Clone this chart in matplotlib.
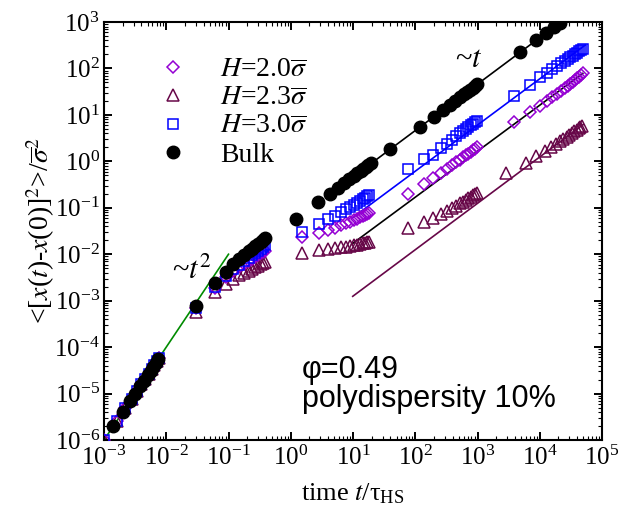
import matplotlib
matplotlib.use('Agg')
import matplotlib.pyplot as plt
from matplotlib.ticker import LogLocator, NullFormatter, LogFormatterSciNotation

# Bulk system (filled circles)
t_bulk = [0.0014, 0.002, 0.0026, 0.0032, 0.0038, 0.0044, 0.005, 0.0056, 0.0062, 0.0068, 0.0074,
          0.03, 0.06, 0.09, 0.12, 0.15, 0.18, 0.21, 0.24, 0.27, 0.30, 0.33, 0.36, 0.39,
          1.2, 2.7, 4.2, 5.7, 7.2, 8.7, 10.2, 11.7, 13.2, 14.7, 16.2, 17.7, 19.2,
          39, 119, 199, 279, 359, 439, 519, 599, 679, 759, 839, 919, 999,
          4800, 8800, 12800, 16800, 20800]
msd_bulk = [2.0e-6, 4.0e-6, 6.8e-6, 1.0e-5, 1.45e-5, 1.9e-5, 2.5e-5, 3.1e-5, 3.8e-5, 4.6e-5, 5.5e-5,
            7.5e-4, 2.4e-3, 4.2e-3, 6.2e-3, 8.0e-3, 9.8e-3, 1.15e-2, 1.3e-2, 1.5e-2, 1.65e-2, 1.8e-2, 2.0e-2, 2.2e-2,
            0.056, 0.13, 0.195, 0.27, 0.34, 0.41, 0.48, 0.55, 0.62, 0.69, 0.76, 0.83, 0.9,
            1.8, 5.5, 9.2, 12.8, 16.5, 20.2, 23.9, 27.6, 31.2, 34.9, 38.6, 42.3, 46,
            221, 405, 589, 773, 957]

# confined systems, H = 2.0 and H = 3.0
t_conf = [0.001, 0.0016, 0.0022, 0.0028, 0.0034, 0.004, 0.0046, 0.0052, 0.0058, 0.0064, 0.007, 0.0076,
          0.03, 0.06, 0.09, 0.12, 0.15, 0.18, 0.21, 0.24, 0.27, 0.30, 0.33, 0.36, 0.39,
          1.5, 2.8, 3.9, 5.2, 6.5, 7.8, 9.1, 10.4, 11.7, 13.0, 14.3, 15.6, 16.9, 18.2,
          77, 140, 195, 260, 325, 390, 455, 520, 585, 650, 715, 780, 845, 910, 975,
          3800, 6900, 10000, 13000, 16000, 19000, 22000, 25000, 28000, 31000, 34000, 37000, 40000, 43000, 46000, 49000]
msd_h20 = [1.0e-6, 2.6e-6, 4.8e-6, 7.8e-6, 1.16e-5, 1.6e-5, 2.1e-5, 2.7e-5, 3.4e-5, 4.1e-5, 4.9e-5, 5.8e-5,
           7.0e-4, 1.9e-3, 3.2e-3, 4.3e-3, 5.3e-3, 6.3e-3, 7.2e-3, 8.0e-3, 8.8e-3, 9.6e-3, 1.04e-2, 1.12e-2, 1.2e-2,
           0.023, 0.029, 0.033, 0.037, 0.042, 0.046, 0.050, 0.054, 0.058, 0.062, 0.066, 0.070, 0.074, 0.078,
           0.20, 0.33, 0.43, 0.56, 0.69, 0.82, 0.95, 1.08, 1.21, 1.34, 1.47, 1.60, 1.73, 1.86, 2.0,
           7.1, 11.7, 15.5, 20, 24, 28.5, 33, 38, 42, 47, 52, 57, 62, 67, 72, 78]
msd_h30 = [1.0e-6, 2.6e-6, 4.8e-6, 7.8e-6, 1.16e-5, 1.6e-5, 2.1e-5, 2.7e-5, 3.4e-5, 4.1e-5, 4.9e-5, 5.8e-5,
           7.0e-4, 2.0e-3, 3.4e-3, 4.8e-3, 6.0e-3, 7.2e-3, 8.3e-3, 9.4e-3, 1.05e-2, 1.2e-2, 1.3e-2, 1.45e-2, 1.56e-2,
           0.030, 0.044, 0.056, 0.068, 0.080, 0.092, 0.104, 0.116, 0.128, 0.140, 0.152, 0.164, 0.176, 0.187,
           0.67, 1.1, 1.4, 1.9, 2.4, 2.9, 3.5, 4.0, 4.5, 5.0, 5.5, 6.0, 6.5, 7.0, 7.5,
           25.5, 44, 65, 80, 96, 112, 128, 143, 158, 173, 188, 203, 218, 233, 250, 268]

# confined system, H = 2.3
t_h23 = [0.001, 0.0016, 0.0022, 0.0028, 0.0034, 0.004, 0.0046, 0.0052, 0.0058, 0.0064, 0.007, 0.0076,
         0.03, 0.06, 0.09, 0.12, 0.15, 0.18, 0.21, 0.24, 0.27, 0.30, 0.33, 0.36, 0.39,
         1.5, 2.8, 3.9, 5.2, 6.5, 7.8, 9.1, 10.4, 11.7, 13.0, 14.3, 15.6, 16.9, 18.2,
         77, 140, 195, 260, 325, 390, 455, 520, 585, 650, 715, 780, 845, 910, 975,
         2900, 6000, 8800, 12000, 15000, 18000, 21000, 24000, 27000, 30000, 33000, 36000, 39000, 42000, 45000, 48000]
msd_h23 = [1.0e-6, 2.6e-6, 4.8e-6, 7.8e-6, 1.16e-5, 1.6e-5, 2.1e-5, 2.7e-5, 3.4e-5, 4.1e-5, 4.9e-5, 5.8e-5,
           5.8e-4, 1.5e-3, 2.3e-3, 3.0e-3, 3.5e-3, 4.0e-3, 4.4e-3, 4.9e-3, 5.3e-3, 5.7e-3, 6.1e-3, 6.5e-3, 6.8e-3,
           0.0107, 0.0122, 0.0128, 0.0134, 0.0140, 0.0146, 0.0151, 0.0156, 0.0161, 0.0166, 0.0171, 0.0176, 0.018, 0.0184,
           0.036, 0.050, 0.060, 0.073, 0.086, 0.099, 0.111, 0.124, 0.136, 0.149, 0.161, 0.174, 0.186, 0.199, 0.21,
           0.55, 0.93, 1.3, 1.65, 2.0, 2.35, 2.7, 3.0, 3.4, 3.7, 4.1, 4.4, 4.8, 5.1, 5.5, 5.9]

# guide lines (end points)
t_ballistic = [1e-3, 0.1]
y_ballistic = [1e-6, 1e-2]
t_fit_bulk = [10, 2.2e4]
y_fit_bulk = [0.46, 1012]
t_fit_h30 = [10, 5.4e4]
y_fit_h30 = [0.062, 320]
t_fit_h20 = [9.5, 4.9e4]
y_fit_h20 = [0.0164, 78]
t_fit_h23 = [9.9, 5.0e4]
y_fit_h23 = [1.24e-3, 6.2]

VIOLET = '#9400d3'
MAROON = '#670748'
BLUE = '#0000ff'
GREEN = '#008b00'

plt.rcParams['font.family'] = ['Liberation Serif', 'DejaVu Serif']
plt.rcParams['mathtext.fontset'] = 'stix'
plt.rcParams['axes.unicode_minus'] = False

fig = plt.figure(figsize=(6.21, 5.14), dpi=100)
ax = fig.add_axes([104 / 621, 74 / 514, 498 / 621, 418 / 514])

# guide lines
ax.plot(t_ballistic, y_ballistic, color=GREEN, lw=1.2, zorder=1)
ax.plot(t_fit_bulk, y_fit_bulk, color='black', lw=1.2, zorder=1)
ax.plot(t_fit_h30, y_fit_h30, color=BLUE, lw=1.2, zorder=1)
ax.plot(t_fit_h20, y_fit_h20, color='black', lw=1.2, zorder=1)
ax.plot(t_fit_h23, y_fit_h23, color=MAROON, lw=1.2, zorder=1)

# data
h23, = ax.plot(t_h23, msd_h23, ls='none', marker='^', ms=8, mfc='none', mec=MAROON, mew=1.1,
               label=r'$H$=2.3$\overline{\sigma}$', zorder=2)
h20, = ax.plot(t_conf, msd_h20, ls='none', marker='D', ms=6.5, mfc='none', mec=VIOLET, mew=1.1,
               label=r'$H$=2.0$\overline{\sigma}$', zorder=3)
h30, = ax.plot(t_conf, msd_h30, ls='none', marker='s', ms=7.5, mfc='none', mec=BLUE, mew=1.1,
               label=r'$H$=3.0$\overline{\sigma}$', zorder=4)
bulk, = ax.plot(t_bulk, msd_bulk, ls='none', marker='o', ms=9, color='black',
                label='Bulk', zorder=5)

ax.set_xscale('log')
ax.set_yscale('log')
ax.set_xlim(1e-3, 1e5)
ax.set_ylim(1e-6, 1e3)

for axis in (ax.xaxis, ax.yaxis):
    axis.set_major_locator(LogLocator(base=10, numticks=20))
    axis.set_minor_locator(LogLocator(base=10, subs=range(2, 10), numticks=20))
    axis.set_minor_formatter(NullFormatter())
    axis.set_major_formatter(LogFormatterSciNotation())

ax.tick_params(which='both', direction='in', top=True, right=True, labelsize=18)
ax.tick_params(which='major', length=6, width=1.4)
ax.tick_params(which='minor', length=3, width=0.8)
ax.tick_params(axis='x', pad=4)
ax.tick_params(axis='y', pad=3)
for s in ax.spines.values():
    s.set_linewidth(1.5)

ax.set_xlabel(r'time $t$/$\mathregular{\tau_{HS}}$', fontsize=19)
ax.set_ylabel(r'<[$x$($t$)-$x$(0)]$^2$>/$\overline{\sigma}^2$', fontsize=20)
ax.xaxis.set_label_coords(0.5, -0.1)
ax.yaxis.set_label_coords(-0.095, 0.5)

ax.legend(handles=[h20, h23, h30, bulk], loc='upper left', bbox_to_anchor=(0.11, 0.915),
          frameon=False, fontsize=20, handlelength=1.0, handletextpad=1.2,
          borderpad=0, borderaxespad=0, labelspacing=0.1)

ax.text(0.0122, 3.0e-3, r'~$t^2$', fontsize=22, va='baseline', ha='left')
ax.text(435, 107, r'~$t$', fontsize=22, va='baseline', ha='left')

ax.text(0.397, 0.148, 'φ=0.49', transform=ax.transAxes, fontsize=22,
        family='Liberation Sans', va='baseline', ha='left')
ax.text(0.397, 0.079, 'polydispersity 10%', transform=ax.transAxes, fontsize=22,
        family='Liberation Sans', va='baseline', ha='left')

fig.savefig('out.png', dpi=100)
